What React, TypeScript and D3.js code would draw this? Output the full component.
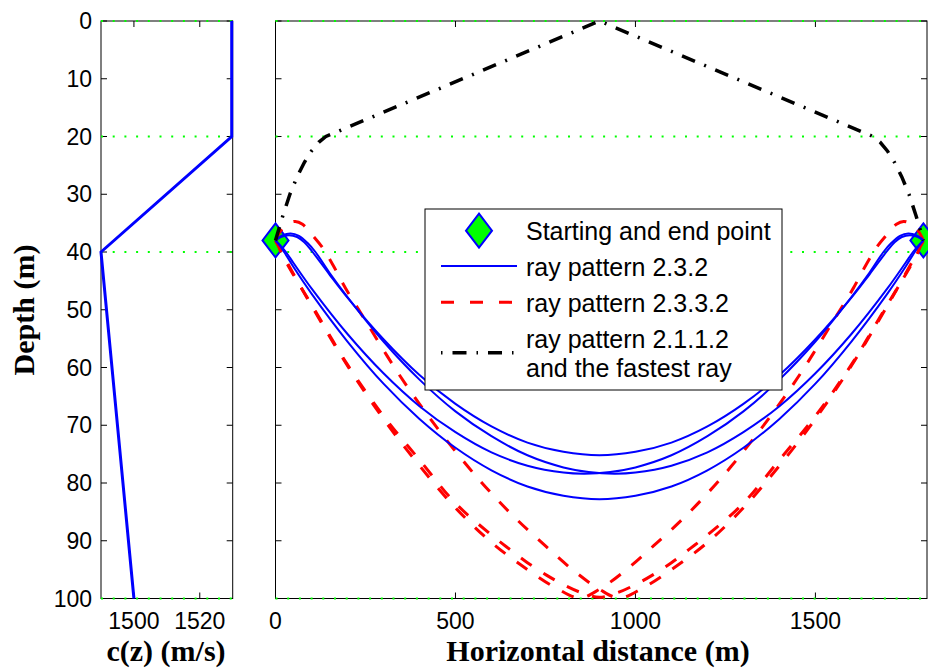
import React from "react";
import * as d3 from "d3";

type Pt = [number, number];

// axis ticks
const depthTicks = [0, 10, 20, 30, 40, 50, 60, 70, 80, 90, 100];
const speedTicks = [1500, 1520];
const distanceTicks = [0, 500, 1000, 1500];
const layerDepths = [0, 20, 40, 100];

// sound speed profile: [c (m/s), depth (m)]
const soundSpeed: Pt[] = [
  [1529.7, 0],
  [1529.7, 20],
  [1490, 40],
  [1500, 100],
];

// start / end point: [distance, depth]
const endPoints: Pt[] = [
  [0, 38],
  [1800, 38],
];

// ray pattern 2.3.2
const blueUpUp: Pt[] = [
  [0, 38.0], [15, 37.4], [37, 37.1], [60, 37.4], [80, 38.3], [103, 40.0], [150, 43.9],
  [200, 47.9], [300, 55.1], [400, 61.3], [500, 66.3], [600, 70.2], [700, 73.0], [800, 74.6],
  [900, 75.2], [1000, 74.6], [1100, 73.0], [1200, 70.2], [1300, 66.3], [1400, 61.3],
  [1500, 55.1], [1600, 47.9], [1650, 43.9], [1697, 40.0], [1720, 38.3], [1740, 37.4],
  [1763, 37.1], [1785, 37.4], [1800, 38.0],
];
const blueDownDown: Pt[] = [
  [0, 38.0], [12, 38.9], [25, 40.1], [50, 42.6], [100, 47.2], [200, 55.5], [300, 62.8],
  [400, 68.9], [500, 73.9], [600, 77.8], [700, 80.6], [800, 82.2], [900, 82.8], [1000, 82.2],
  [1100, 80.6], [1200, 77.8], [1300, 73.9], [1400, 68.9], [1500, 62.8], [1600, 55.5],
  [1700, 47.2], [1750, 42.6], [1775, 40.1], [1788, 38.9], [1800, 38.0],
];
const blueUpDown: Pt[] = [
  [0, 38.0], [20, 37.1], [42, 36.8], [65, 37.2], [90, 38.5], [111, 40.0], [150, 43.6],
  [200, 47.8], [300, 55.5], [400, 62.1], [500, 67.6], [600, 71.9], [700, 75.2], [800, 77.3],
  [870, 78.1], [941, 78.4], [1000, 78.2], [1100, 77.0], [1200, 74.7], [1300, 71.2],
  [1400, 66.7], [1500, 61.0], [1600, 54.2], [1700, 46.3], [1750, 41.9], [1771, 40.0],
  [1786, 38.9], [1800, 38.0],
];
const blueDownUp: Pt[] = [
  [0, 38.0], [14, 38.9], [29, 40.0], [50, 41.9], [100, 46.3], [200, 54.2], [300, 61.0],
  [400, 66.7], [500, 71.2], [600, 74.7], [700, 77.0], [800, 78.2], [859, 78.4], [930, 78.1],
  [1000, 77.3], [1100, 75.2], [1200, 71.9], [1300, 67.6], [1400, 62.1], [1500, 55.5],
  [1600, 47.8], [1650, 43.6], [1689, 40.0], [1710, 38.5], [1735, 37.2], [1758, 36.8],
  [1780, 37.1], [1800, 38.0],
];

// ray pattern 2.3.3.2
const redDownUp: Pt[] = [
  [0, 38.0], [10, 39.2], [20, 40.4], [40, 42.7], [100, 49.3], [200, 59.7], [300, 68.9],
  [400, 77.0], [500, 84.3], [600, 90.3], [700, 95.0], [780, 98.2], [845, 99.9], [900, 98.4],
  [975, 95.0], [1050, 90.9], [1130, 86.3], [1200, 81.8], [1265, 77.2], [1365, 69.3],
  [1460, 60.9], [1550, 51.9], [1605, 46.3], [1640, 42.3], [1670, 39.2], [1700, 36.9],
  [1725, 35.2], [1745, 34.7], [1765, 35.1], [1785, 36.3], [1800, 38.0],
];
const redUpDown: Pt[] = [
  [0, 38.0], [15, 36.3], [35, 35.1], [55, 34.7], [75, 35.2], [100, 36.9], [130, 39.2],
  [160, 42.3], [195, 46.3], [250, 51.9], [340, 60.9], [435, 69.3], [535, 77.2], [600, 81.8],
  [670, 86.3], [750, 90.9], [825, 95.0], [900, 98.4], [955, 99.9], [1020, 98.2], [1100, 95.0],
  [1200, 90.3], [1300, 84.3], [1400, 77.0], [1500, 68.9], [1600, 59.7], [1700, 49.3],
  [1760, 42.7], [1780, 40.4], [1790, 39.2], [1800, 38.0],
];
const redDownDown: Pt[] = [
  [0, 38.0], [8, 38.9], [15, 40.0], [40, 42.9], [100, 49.1], [200, 59.5], [300, 68.4],
  [400, 76.0], [500, 83.5], [600, 89.0], [651, 91.5], [700, 93.8], [754, 96.0], [800, 97.6],
  [850, 99.0], [900, 99.8], [950, 99.0], [1000, 97.6], [1046, 96.0], [1100, 93.8],
  [1149, 91.5], [1200, 89.0], [1300, 83.5], [1400, 76.0], [1500, 68.4], [1600, 59.5],
  [1700, 49.1], [1760, 42.9], [1785, 40.0], [1792, 38.9], [1800, 38.0],
];

// ray pattern 2.1.1.2 (fastest ray)
const blackRay: Pt[] = [
  [0, 38.0], [10, 35.9], [20, 33.8], [40, 30.0], [60, 27.0], [80, 24.5], [100, 22.5],
  [120, 21.0], [140, 20.0], [900, 0], [1660, 20.0], [1680, 21.0], [1700, 22.5], [1720, 24.5],
  [1740, 27.0], [1760, 30.0], [1780, 33.8], [1790, 35.9], [1800, 38.0],
];

const blueRays = [blueUpUp, blueDownDown, blueUpDown, blueDownUp];
const redRays = [redDownUp, redUpDown, redDownDown];

const legendLines = [
  ["Starting and end point"],
  ["ray pattern 2.3.2"],
  ["ray pattern 2.3.3.2"],
  ["ray pattern 2.1.1.2", "and the fastest ray"],
];

const W = 928;
const H = 668;
const tickFont = "'Liberation Sans', Arial, Helvetica, sans-serif";
const labelFont = "'Liberation Serif', 'Times New Roman', serif";
const GREEN = "#00ff00";
const tickLen = 6;
const tickSize = 23;

const y = d3.scaleLinear().domain([0, 100]).range([21, 598.5]);
const cx = d3.scaleLinear().domain([1490, 1530]).range([101, 232.7]);
const rx = d3.scaleLinear().domain([0, 1810]).range([275.5, 927]);

const diamond = (x: number, yy: number, hw: number, hh: number) =>
  `M${x},${yy - hh}L${x + hw},${yy}L${x},${yy + hh}L${x - hw},${yy}Z`;

const Frame = ({ xs, labels }: { xs: d3.ScaleLinear<number, number>; labels: boolean }) => {
  const [x0, x1] = xs.range();
  const [y0, y1] = y.range();
  return (
    <g>
      <rect x={x0} y={y0} width={x1 - x0} height={y1 - y0} fill="none" stroke="black" strokeWidth={1} />
      {depthTicks.map((t) => (
        <g key={"yt" + t}>
          <line x1={x0} x2={x0 + tickLen} y1={y(t)} y2={y(t)} stroke="black" />
          <line x1={x1} x2={x1 - tickLen} y1={y(t)} y2={y(t)} stroke="black" />
          {labels && (
            <text x={92} y={y(t)} dy="0.35em" textAnchor="end" fontFamily={tickFont} fontSize={tickSize}>
              {t}
            </text>
          )}
        </g>
      ))}
    </g>
  );
};

const XTicks = ({ xs, ticks }: { xs: d3.ScaleLinear<number, number>; ticks: number[] }) => {
  const [y0, y1] = y.range();
  return (
    <g>
      {ticks.map((t) => (
        <g key={"xt" + t}>
          <line x1={xs(t)} x2={xs(t)} y1={y0} y2={y0 + tickLen} stroke="black" />
          <line x1={xs(t)} x2={xs(t)} y1={y1} y2={y1 - tickLen} stroke="black" />
          <text x={xs(t)} y={629} textAnchor="middle" fontFamily={tickFont} fontSize={tickSize}>
            {t}
          </text>
        </g>
      ))}
    </g>
  );
};

const GreenGrid = ({ xs }: { xs: d3.ScaleLinear<number, number> }) => {
  const [x0, x1] = xs.range();
  return (
    <g>
      {layerDepths.map((d) => (
        <line
          key={"g" + d}
          x1={x0}
          x2={x1}
          y1={y(d)}
          y2={y(d)}
          stroke={GREEN}
          strokeWidth={2}
          strokeDasharray="2 9.7"
        />
      ))}
    </g>
  );
};

export default function App() {
  const rayLine = d3
    .line<Pt>()
    .x((d) => rx(d[0]))
    .y((d) => y(d[1]))
    .curve(d3.curveCatmullRom.alpha(0.5));
  const blackLine = d3
    .line<Pt>()
    .x((d) => rx(d[0]))
    .y((d) => y(d[1]))
    .curve(d3.curveLinear);
  const profileLine = d3
    .line<Pt>()
    .x((d) => cx(d[0]))
    .y((d) => y(d[1]));

  const lg = { x: 425, y: 209, w: 357, h: 181 };
  const textX = 526;
  const sx0 = 441;
  const sx1 = 517;

  return (
    <svg
      width={W}
      height={H}
      style={{ position: "absolute", left: 0, top: 0, background: "white" }}
    >
      <rect x={0} y={0} width={W} height={H} fill="white" />

      {/* left panel: sound speed */}
      <Frame xs={cx} labels={true} />
      <XTicks xs={cx} ticks={speedTicks} />
      <GreenGrid xs={cx} />
      <path d={profileLine(soundSpeed) || ""} fill="none" stroke="#0000ff" strokeWidth={3} />

      {/* right panel: rays */}
      <Frame xs={rx} labels={false} />
      <XTicks xs={rx} ticks={distanceTicks} />
      <GreenGrid xs={rx} />

      {endPoints.map((p, i) => (
        <path
          key={"ep" + i}
          d={diamond(rx(p[0]), y(p[1]), 13, 17)}
          fill={GREEN}
          stroke="#0000ff"
          strokeWidth={2}
        />
      ))}

      {redRays.map((r, i) => (
        <path
          key={"r" + i}
          d={rayLine(r) || ""}
          fill="none"
          stroke="#ff0000"
          strokeWidth={3}
          strokeDasharray="13 14"
        />
      ))}
      {blueRays.map((r, i) => (
        <path key={"b" + i} d={rayLine(r) || ""} fill="none" stroke="#0000ff" strokeWidth={2} />
      ))}
      <path
        d={blackLine(blackRay) || ""}
        fill="none"
        stroke="black"
        strokeWidth={3.5}
        strokeDasharray="14 10 2 10"
      />

      {/* legend */}
      <rect x={lg.x} y={lg.y} width={lg.w} height={lg.h} fill="white" stroke="black" strokeWidth={1} />
      <path d={diamond(479, 230.7, 13, 17)} fill={GREEN} stroke="#0000ff" strokeWidth={2} />
      <line x1={sx0} x2={sx1} y1={266} y2={266} stroke="#0000ff" strokeWidth={2} />
      <line
        x1={sx0}
        x2={sx1}
        y1={302.3}
        y2={302.3}
        stroke="#ff0000"
        strokeWidth={3}
        strokeDasharray="13 16"
      />
      <line
        x1={sx0}
        x2={sx1}
        y1={352.7}
        y2={352.7}
        stroke="black"
        strokeWidth={3.5}
        strokeDasharray="1.5 10 14 10"
      />
      <g fontFamily={tickFont} fontSize={25}>
        <text x={textX} y={240}>{legendLines[0][0]}</text>
        <text x={textX} y={276}>{legendLines[1][0]}</text>
        <text x={textX} y={311.7}>{legendLines[2][0]}</text>
        <text x={textX} y={348.3}>{legendLines[3][0]}</text>
        <text x={textX} y={377}>{legendLines[3][1]}</text>
      </g>

      {/* axis titles */}
      <g fontFamily={labelFont} fontWeight="bold" fontSize={30}>
        <text x={166} y={661} textAnchor="middle">c(z) (m/s)</text>
        <text x={598} y={661} textAnchor="middle">Horizontal distance (m)</text>
        <text transform="translate(34, 310) rotate(-90)" textAnchor="middle">Depth (m)</text>
      </g>
    </svg>
  );
}
